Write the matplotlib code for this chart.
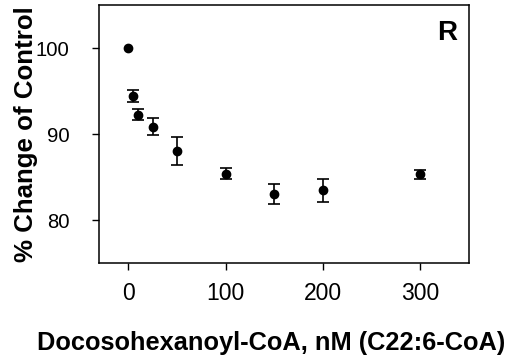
import numpy as np
import matplotlib
matplotlib.use("Agg")
from matplotlib import pyplot as plt

plt.rcParams['font.family'] = ['Liberation Sans', 'DejaVu Sans']

# data
conc = [0, 5, 10, 25, 50, 100, 150, 200, 300]
pct = [100.0, 94.45, 92.25, 90.87, 88.05, 85.4, 83.0, 83.45, 85.3]
err = [np.nan, 0.7, 0.65, 0.95, 1.6, 0.65, 1.15, 1.3, 0.55]

fig = plt.figure(figsize=(5.18, 3.6), dpi=100)
ax = fig.add_axes([99/518, 1-263/360, 370/518, 258/360])

ax.errorbar(conc, pct, yerr=err, fmt='o', color='black', ms=6,
            capsize=4, elinewidth=1.2, capthick=1.2)

ax.set_xlim(-30, 350)
ax.set_ylim(75, 105)
ax.set_xticks([0, 100, 200, 300])
ax.set_yticks([80, 90, 100])
ax.tick_params(direction='out', length=5, width=1)
ax.tick_params(axis='x', labelsize=16.5, pad=9)
ax.tick_params(axis='y', labelsize=14.6, pad=16.5)
for s in ax.spines.values():
  s.set_linewidth(1.1)

ax.set_xlabel('Docosohexanoyl-CoA, nM (C22:6-CoA)', fontsize=18.3, fontweight='bold')
ax.xaxis.set_label_coords(0.465, -0.337)
ax.xaxis.label.set_va('baseline')
ax.set_ylabel('% Change of Control', fontsize=18.6, fontweight='bold')
ax.yaxis.set_label_coords(-0.165, 0.5)
ax.text(0.94, 0.89, 'R', transform=ax.transAxes, ha='center', va='center',
        fontsize=20, fontweight='bold')

plt.savefig("out.png", dpi=100)
